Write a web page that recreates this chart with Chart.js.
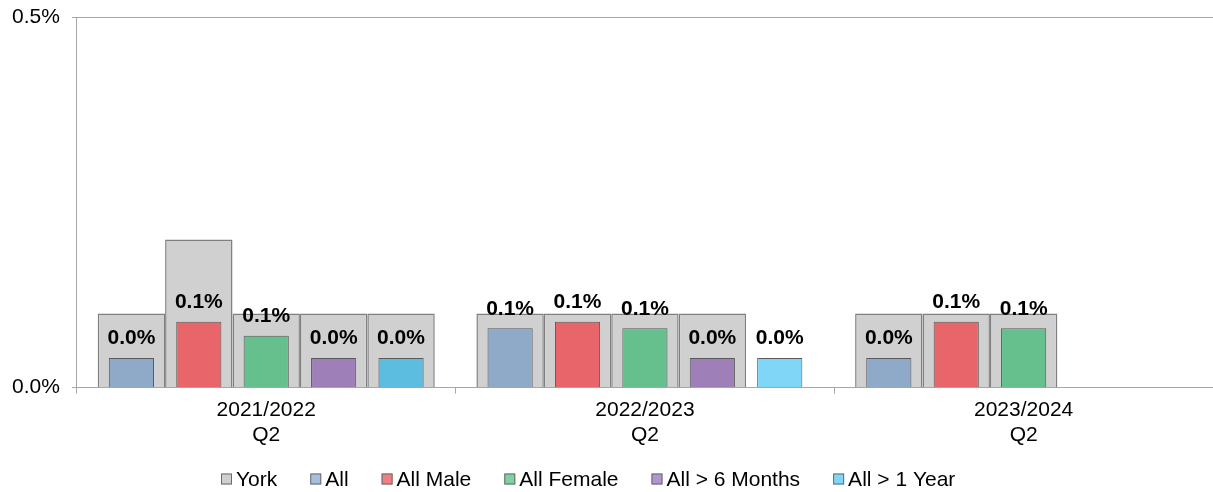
<!DOCTYPE html>
<html>
<head>
<meta charset="utf-8">
<script src="https://cdn.jsdelivr.net/npm/chart.js@4"></script>
<style>
  html, body { margin: 0; padding: 0; background: #fff; }
  #wrap { width: 1213px; height: 492px; }
</style>
</head>
<body>
<div id="wrap"><canvas id="chart-main"></canvas></div>
<script>
const categories = [["2021/2022", "Q2"], ["2022/2023", "Q2"], ["2023/2024", "Q2"]];
const yTicks = [0, 0.5];

// York comparison, one array per bar slot
const yorkAll = [0.1, 0.1, 0.1];
const yorkMale = [0.2, 0.1, 0.1];
const yorkFemale = [0.1, 0.1, 0.1];
const yorkOver6 = [0.1, 0.1, null];
const yorkOver1y = [0.1, null, null];

const allValues = [0.04, 0.08, 0.04];
const maleValues = [0.089, 0.089, 0.089];
const femaleValues = [0.07, 0.08, 0.08];
const over6Values = [0.04, 0.04, null];
const over1yValues = [0.04, 0.04, null];

const seriesNames = ["All", "All Male", "All Female", "All > 6 Months", "All > 1 Year"];
const colors = ["#8eaac8", "#e8666a", "#66c08e", "#9e7fb8", "#80d6f7"];
const over1yColors = ["#5cbde0", "#80d6f7", "#80d6f7"];
const legendColors = ["#d0d0d0", "#a6bfdd", "#f07f82", "#7fd1a1", "#b294cf", "#80d6f7"];
const FONT = "Arial, 'Liberation Sans'";

const ctx = document.getElementById("chart-main");

// each slot gets its own stack name so York sits behind the matching bar
const yorkSets = [yorkAll, yorkMale, yorkFemale, yorkOver6, yorkOver1y].map((d, i) => ({
  label: "York",
  data: d,
  stack: "s" + i,
  backgroundColor: "#d0d0d0",
  borderColor: "#7f7f7f",
  borderWidth: 1.5,
  barPercentage: 1.0,
  categoryPercentage: 0.89,
  order: 2,
  isYork: true,
}));

const mainSets = [allValues, maleValues, femaleValues, over6Values, over1yValues].map((d, i) => ({
  label: seriesNames[i],
  data: d,
  stack: "s" + i,
  backgroundColor: i === 4 ? over1yColors : colors[i],
  borderColor: "#5a5a5a",
  borderWidth: 1,
  barPercentage: 0.67,
  categoryPercentage: 0.89,
  order: 1,
}));

const valueLabels = {
  id: "valueLabels",
  afterDatasetsDraw(chart) {
    const c = chart.ctx;
    c.save();
    c.font = "bold 21px " + FONT;
    c.fillStyle = "#000";
    c.textAlign = "center";
    c.textBaseline = "bottom";
    chart.data.datasets.forEach((ds, i) => {
      if (ds.isYork) return;
      chart.getDatasetMeta(i).data.forEach((bar, j) => {
        const v = ds.data[j];
        if (v === null || v === undefined) return;
        c.fillText(v.toFixed(1) + "%", bar.x, bar.y - 9);
      });
    });
    c.restore();
  },
};

// simple legend row: small square, short gap, text
const bottomLegend = {
  id: "bottomLegend",
  afterDraw(chart) {
    const c = chart.ctx;
    const names = ["York"].concat(seriesNames);
    c.save();
    c.font = "21px " + FONT;
    c.textBaseline = "middle";
    c.textAlign = "left";
    const box = 11, gap = 4, spacing = 33;
    const widths = names.map((n) => c.measureText(n).width);
    const total = widths.reduce((a, w) => a + box + gap + w, 0) + spacing * (names.length - 1);
    let x = Math.round(chart.width / 2 - 18 - total / 2);
    const y = chart.height - 13;
    names.forEach((n, i) => {
      c.fillStyle = legendColors[i];
      c.fillRect(x, y - box / 2, box, box);
      c.strokeStyle = "#6b6b6b";
      c.lineWidth = 1;
      c.strokeRect(x + 0.5, y - box / 2 + 0.5, box - 1, box - 1);
      c.fillStyle = "#000";
      c.fillText(n, x + box + gap, y + 1);
      x += box + gap + widths[i] + spacing;
    });
    c.restore();
  },
};

new Chart(ctx, {
  type: "bar",
  data: {
    labels: categories,
    datasets: mainSets.concat(yorkSets),
  },
  plugins: [valueLabels, bottomLegend],
  options: {
    responsive: true,
    maintainAspectRatio: false,
    animation: false,
    layout: { padding: { top: 0, right: 0, left: 0, bottom: 40 } },
    plugins: {
      tooltip: { enabled: false },
      legend: { display: false },
    },
    scales: {
      x: {
        offset: true,
        grid: { offset: true, drawOnChartArea: false, color: "#a6a6a6", tickLength: 6 },
        border: { color: "#a6a6a6" },
        ticks: { color: "#000", font: { family: FONT, size: 21 }, padding: 4, maxRotation: 0 },
      },
      y: {
        stacked: false,
        min: 0,
        max: 0.5,
        afterBuildTicks: (axis) => { axis.ticks = yTicks.map((v) => ({ value: v })); },
        grid: { color: "#a6a6a6", tickLength: 5 },
        border: { color: "#a6a6a6" },
        ticks: {
          color: "#000",
          font: { family: FONT, size: 21, lineHeight: 0.5 },
          padding: 12,
          callback: (v) => v.toFixed(1) + "%",
        },
      },
    },
  },
});
</script>
</body>
</html>
